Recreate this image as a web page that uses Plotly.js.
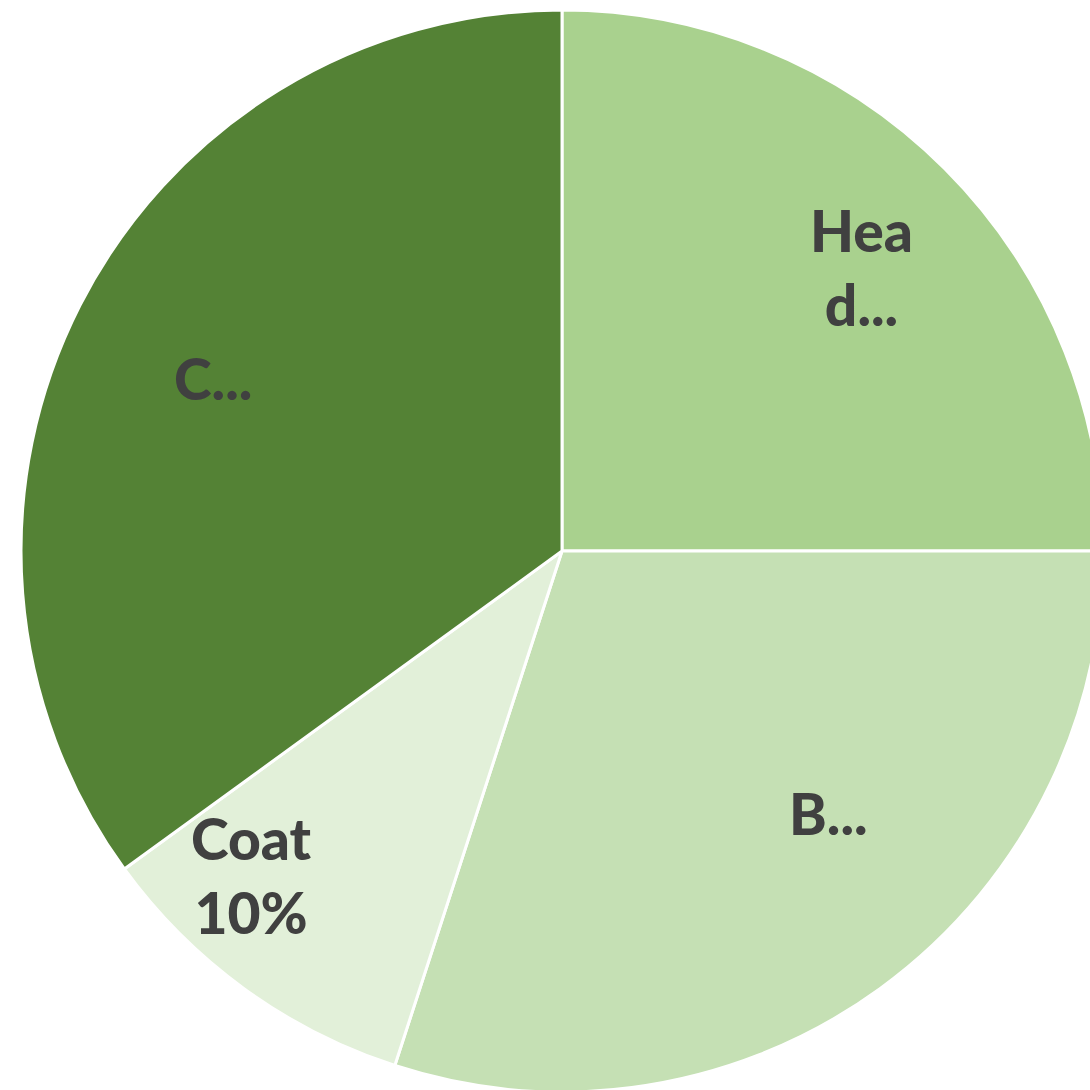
<!DOCTYPE html>
<html>
<head>
<meta charset="utf-8">
<script src="https://cdn.plot.ly/plotly-3.0.1.min.js"></script>
<style>
html,body{margin:0;padding:0;overflow:hidden;background:#fff;width:1090px;height:1090px;}
#chart{width:1104px;height:1100px;}
</style>
</head>
<body>
<div id="chart"></div>
<script>
// Data
const categories = ["Head", "B", "Coat", "C"];
const values = [25, 30, 10, 35];
const sliceText = ["Hea<br>d...", "B...", "Coat<br>10%", "C..."];
const colors = ["#A9D18E", "#C5E0B4", "#E2F0D9", "#548235"];

// Label placement style (radial fraction and angular nudge, like Excel best-fit)
const labelRadius = [0.763, 0.69, 0.83, 0.72];
const labelAngleNudge = [1.6, -9.5, 7.8, -0.6];

const W = 1104, H = 1100;
const cx = 562, cy = 551, r = 541;
const FONT = {family: "Lato, 'Open Sans', sans-serif", size: 57, color: "#404040", weight: 900};

const trace = {
  type: "pie",
  labels: categories,
  values: values,
  textinfo: "none",
  sort: false,
  direction: "clockwise",
  rotation: 0,
  marker: {colors: colors, line: {color: "#ffffff", width: 3}},
  domain: {x: [(cx - r) / W, (cx + r) / W], y: [(H - cy - r) / H, (H - cy + r) / H]},
  hoverinfo: "none"
};

const total = values.reduce((a, b) => a + b, 0);
let cum = 0;
const annotations = values.map((v, i) => {
  const mid = 360 * (cum + v / 2) / total + labelAngleNudge[i];
  cum += v;
  const a = mid * Math.PI / 180;
  const px = cx + labelRadius[i] * r * Math.sin(a);
  const py = cy - labelRadius[i] * r * Math.cos(a);
  return {
    xref: "paper", yref: "paper",
    x: px / W, y: 1 - py / H,
    xanchor: "center", yanchor: "middle",
    text: sliceText[i],
    showarrow: false,
    font: FONT,
    align: "center"
  };
});

const layout = {
  width: W, height: H,
  margin: {l: 0, r: 0, t: 0, b: 0, pad: 0},
  showlegend: false,
  paper_bgcolor: "#ffffff",
  annotations: annotations
};

Plotly.newPlot("chart", [trace], layout, {staticPlot: true, displayModeBar: false});
</script>
</body>
</html>
